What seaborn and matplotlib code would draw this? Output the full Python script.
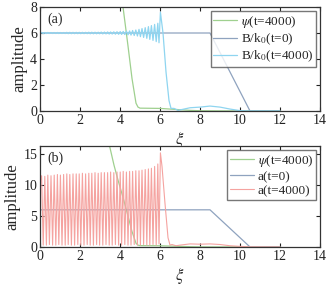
import numpy as np
import pandas as pd
import matplotlib
matplotlib.use("Agg")
import matplotlib.pyplot as plt
import seaborn as sns

# positions of oscillation maxima / minima
peak_x = [0.08, 0.24, 0.39, 0.55, 0.71, 0.87, 1.02, 1.18, 1.34, 1.49, 1.65, 1.81, 1.96,
          2.12, 2.28, 2.44, 2.59, 2.75, 2.91, 3.06, 3.22, 3.38, 3.53, 3.69, 3.85, 4.01,
          4.16, 4.32, 4.48, 4.63, 4.79, 4.95, 5.10, 5.26, 5.42, 5.57, 5.73, 5.89]
trough_x = [0.16, 0.32, 0.47, 0.63, 0.79, 0.94, 1.10, 1.26, 1.41, 1.57, 1.73, 1.89, 2.04,
            2.20, 2.36, 2.51, 2.67, 2.83, 2.98, 3.14, 3.30, 3.46, 3.61, 3.77, 3.93, 4.08,
            4.24, 4.40, 4.55, 4.71, 4.87, 5.02, 5.18, 5.34, 5.49, 5.65, 5.81, 5.95]

# a(t=4000): peak and trough heights
a_peak = [11.5, 11.4, 11.6, 11.5, 11.6, 11.7, 11.6, 11.7, 11.8, 11.7, 11.8, 11.8, 11.8,
          11.9, 11.8, 11.9, 11.9, 12.0, 11.9, 12.0, 12.0, 12.0, 12.1, 12.0, 12.1, 12.1,
          12.2, 12.1, 12.2, 12.2, 12.3, 12.3, 12.4, 12.5, 12.6, 12.7, 13.0, 13.4]
a_trough = [0.3, 0.3, 0.4, 0.3, 0.3, 0.4, 0.3, 0.3, 0.4, 0.3, 0.3, 0.4, 0.3,
            0.3, 0.4, 0.3, 0.3, 0.4, 0.3, 0.3, 0.4, 0.3, 0.3, 0.4, 0.3, 0.3,
            0.4, 0.3, 0.3, 0.4, 0.3, 0.3, 0.4, 0.3, 0.3, 0.4, 0.3, 0.5]
a_tail_x = [6.02, 6.1, 6.25, 6.4, 6.5, 6.6, 6.8, 7.0, 7.5, 8.0, 8.5, 9.0, 9.5, 10.0, 10.5, 12.0]
a_tail_y = [15.2, 13.0, 7.0, 1.5, 0.3, 0.4, 0.2, 0.3, 0.5, 0.45, 0.5, 0.4, 0.2, 0.1, 0.02, 0.0]

# B/k0(t=4000): ripple amplitude around 6
b_amp = [0.04, 0.04, 0.04, 0.04, 0.04, 0.04, 0.04, 0.04, 0.05, 0.05, 0.05, 0.05, 0.05,
         0.05, 0.05, 0.06, 0.06, 0.06, 0.06, 0.07, 0.07, 0.08, 0.08, 0.09, 0.1, 0.11,
         0.12, 0.14, 0.16, 0.19, 0.23, 0.28, 0.34, 0.41, 0.49, 0.57, 0.66, 0.75]
b_tail_x = [6.02, 6.15, 6.3, 6.45, 6.55, 6.7, 6.9, 7.2, 7.5, 8.0, 8.5, 9.0, 9.5, 10.0, 10.5, 12.0]
b_tail_y = [7.6, 6.0, 3.0, 0.8, 0.2, 0.2, 0.05, 0.15, 0.25, 0.3, 0.38, 0.3, 0.15, 0.03, 0.0, 0.0]

# initial profile (B/k0 and a at t=0)
init_x = [0.0, 8.5, 10.5, 12.0]
init_y = [6.0, 6.0, 0.0, 0.0]

# psi(t=4000)
psi_x = [3.4, 3.5, 3.7, 3.9, 4.15, 4.4, 4.6, 4.8, 4.9, 5.0, 6.0, 6.5, 7.0, 7.5, 8.0, 9.0, 12.0]
psi_y = [17.0, 16.0, 13.2, 10.8, 8.0, 5.0, 2.5, 0.6, 0.3, 0.22, 0.2, 0.15, 0.1, 0.05, 0.02, 0.01, 0.0]

# build the oscillating curves
osc_x = [0.0]
a_y = [10.5]
b_y = [6.0]
for px, tx, ap, at, ba in zip(peak_x, trough_x, a_peak, a_trough, b_amp):
    osc_x += [px, tx]
    a_y += [ap, at]
    b_y += [6 + ba, 6 - ba]
a_df = pd.DataFrame({"x": osc_x + a_tail_x, "y": a_y + a_tail_y})
b_df = pd.DataFrame({"x": osc_x + b_tail_x, "y": b_y + b_tail_y})

c_psi = "#9fd08f"
c_init = "#8fa3bf"
c_b = "#8fd5f0"
c_a = "#f5a3a0"

sns.set_theme(style="ticks")
plt.rcParams["font.family"] = ["Liberation Serif", "DejaVu Serif"]
plt.rcParams["mathtext.fontset"] = "stix"
plt.rcParams["axes.edgecolor"] = "#333333"
plt.rcParams["axes.linewidth"] = 0.9

fig = plt.figure(figsize=(3.32, 2.87), dpi=100)
ax1 = fig.add_axes([0.1205, 0.6132, 0.8434, 0.3624])
ax2 = fig.add_axes([0.1205, 0.1394, 0.8434, 0.3519])

lw = 0.9
sns.lineplot(x=psi_x, y=psi_y, ax=ax1, color=c_psi, lw=lw, sort=False, label=r"$\psi$(t=4000)")
sns.lineplot(x=init_x, y=init_y, ax=ax1, color=c_init, lw=lw, sort=False, label=r"B/k$_0$(t=0)")
sns.lineplot(data=b_df, x="x", y="y", ax=ax1, color=c_b, lw=lw, sort=False, label=r"B/k$_0$(t=4000)")

sns.lineplot(x=psi_x, y=psi_y, ax=ax2, color=c_psi, lw=lw, sort=False, label=r"$\psi$(t=4000)")
sns.lineplot(x=init_x, y=init_y, ax=ax2, color=c_init, lw=lw, sort=False, label="a(t=0)")
sns.lineplot(data=a_df, x="x", y="y", ax=ax2, color=c_a, lw=0.8, sort=False, label="a(t=4000)")

for ax, ylim, yt, tag in [(ax1, 8, [0, 2, 4, 6, 8], "(a)"), (ax2, 16.3, [0, 5, 10, 15], "(b)")]:
    ax.set_xlim(0, 14)
    ax.set_ylim(0, ylim)
    ax.set_xticks(range(0, 15, 2))
    ax.set_yticks(yt)
    ax.tick_params(direction="in", top=True, right=True, length=3, width=0.8,
                   labelsize=10, pad=2, colors="#222222")
    ax.set_xlabel(r"$\xi$", fontsize=12, labelpad=2)
    ax.set_ylabel("amplitude", fontsize=12, labelpad=2)
    ax.text(0.025, 0.95, tag, transform=ax.transAxes, fontsize=10, va="top", ha="left")
    leg = ax.legend(loc="upper right", fontsize=9.5, frameon=True, fancybox=False,
                    handlelength=1.8, handletextpad=0.3, borderpad=0.2, labelspacing=0.15,
                    borderaxespad=0.3)
    leg.get_frame().set_edgecolor("#555555")
    leg.get_frame().set_linewidth(1.0)

fig.savefig("out.png", dpi=100)
